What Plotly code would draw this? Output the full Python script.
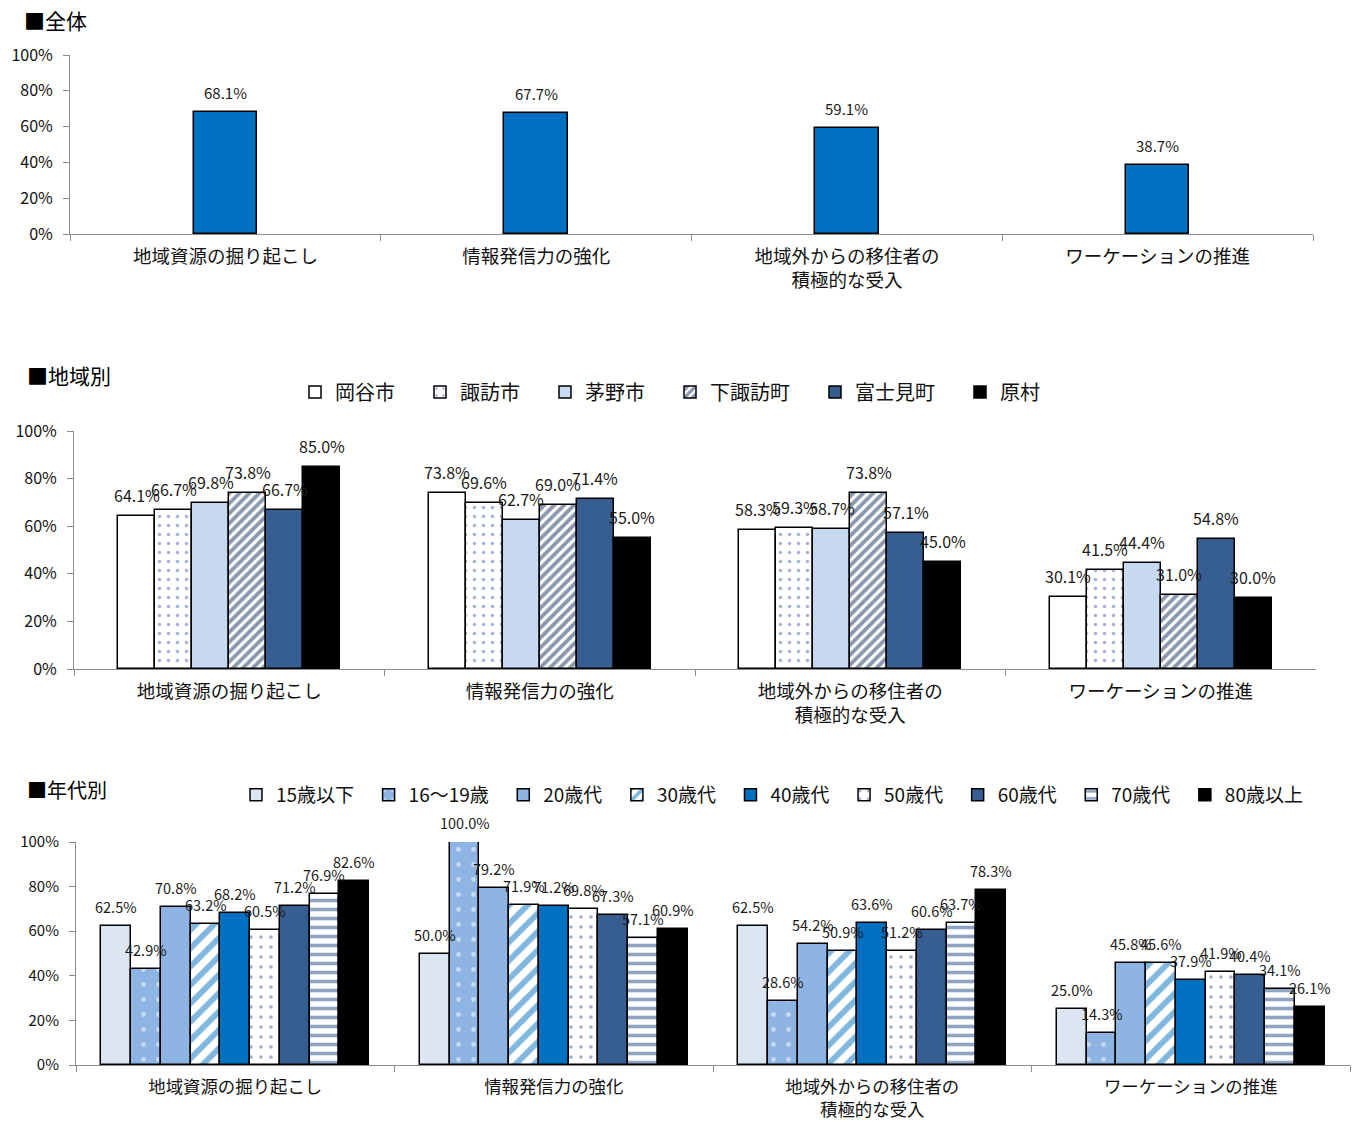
import plotly.graph_objects as go

FONT = "Noto Sans CJK JP"

categories = ["地域資源の掘り起こし", "情報発信力の強化", "地域外からの移住者の<br>積極的な受入", "ワーケーションの推進"]

# Panel 1: overall
overall_values = [68.1, 67.7, 59.1, 38.7]

# Panel 2: by region
region_names = ["岡谷市", "諏訪市", "茅野市", "下諏訪町", "富士見町", "原村"]
okaya = [64.1, 73.8, 58.3, 30.1]
suwa = [66.7, 69.6, 59.3, 41.5]
chino = [69.8, 62.7, 58.7, 44.4]
shimosuwa = [73.8, 69.0, 73.8, 31.0]
fujimi = [66.7, 71.4, 57.1, 54.8]
haramura = [85.0, 55.0, 45.0, 30.0]
region_values = [okaya, suwa, chino, shimosuwa, fujimi, haramura]

# Panel 3: by age
age_names = ["15歳以下", "16～19歳", "20歳代", "30歳代", "40歳代", "50歳代", "60歳代", "70歳代", "80歳以上"]
age15 = [62.5, 50.0, 62.5, 25.0]
age16_19 = [42.9, 100.0, 28.6, 14.3]
age20s = [70.8, 79.2, 54.2, 45.8]
age30s = [63.2, 71.9, 50.9, 45.6]
age40s = [68.2, 71.2, 63.6, 37.9]
age50s = [60.5, 69.8, 51.2, 41.9]
age60s = [71.2, 67.3, 60.6, 40.4]
age70s = [76.9, 57.1, 63.7, 34.1]
age80 = [82.6, 60.9, 78.3, 26.1]
age_values = [age15, age16_19, age20s, age30s, age40s, age50s, age60s, age70s, age80]

y_ticks = [0, 20, 40, 60, 80, 100]
y_ticktext = ["0%", "20%", "40%", "60%", "80%", "100%"]

# styles
region_styles = [
    dict(color="white"),
    dict(color="white", pattern=dict(shape=".", fgcolor="#4A6AAE", bgcolor="white", size=9, solidity=0.12)),
    dict(color="#C6D9F0"),
    dict(color="white", pattern=dict(shape="/", fgcolor="#172F5C", bgcolor="white", size=7, solidity=0.55)),
    dict(color="#375E91"),
    dict(color="black"),
]
age_styles = [
    dict(color="#DCE6F2"),
    dict(color="#8DB4E2", pattern=dict(shape=".", fgcolor="white", bgcolor="#8DB4E2", size=15, solidity=0.08)),
    dict(color="#8DB4E2"),
    dict(color="white", pattern=dict(shape="/", fgcolor="#0070C0", bgcolor="white", size=13, solidity=0.45)),
    dict(color="#0070C0"),
    dict(color="white", pattern=dict(shape=".", fgcolor="#3C5C94", bgcolor="white", size=10, solidity=0.1)),
    dict(color="#375E91"),
    dict(color="white", pattern=dict(shape="-", fgcolor="#1F4A86", bgcolor="white", size=9, solidity=0.4)),
    dict(color="black"),
]

fig = go.Figure()
line = dict(color="black", width=1.5)
annotations = []

def add_labels(xref, yref, vals, center_offset, size):
    for j, v in enumerate(vals):
        annotations.append(dict(
            xref=xref, yref=yref, x=j + center_offset, y=v, text=f"{v:.1f}%",
            xanchor="center", yanchor="bottom", yshift=7, showarrow=False,
            font=dict(family=FONT, size=size, color="#1a1a1a")))

fig.add_trace(go.Bar(
    x=categories, y=overall_values, xaxis="x", yaxis="y", width=0.205,
    marker=dict(color="#0070C0", line=line),
    showlegend=False, hoverinfo="skip",
))
add_labels("x", "y", overall_values, 0.0, 15)

n2 = len(region_names)
w2 = 0.119
for i, (name, vals, st) in enumerate(zip(region_names, region_values, region_styles)):
    off = -n2 * w2 / 2 + i * w2
    fig.add_trace(go.Bar(
        name=name + "\u3000", x=categories, y=vals, xaxis="x2", yaxis="y2",
        width=w2, offset=off, marker=dict(line=line, **st), legend="legend",
    ))
    add_labels("x2", "y2", vals, off + w2 / 2, 16)

n3 = len(age_names)
w3 = 0.0934
for i, (name, vals, st) in enumerate(zip(age_names, age_values, age_styles)):
    off = -n3 * w3 / 2 + i * w3
    fig.add_trace(go.Bar(
        name=name + "\u2002", x=categories, y=vals, xaxis="x3", yaxis="y3",
        width=w3, offset=off, marker=dict(line=line, **st), legend="legend2",
    ))
    add_labels("x3", "y3", vals, off + w3 / 2, 14.5)

H = 1122.0
W = 1355.0

def xax(x0, x1, anchor, size):
    return dict(domain=[x0 / W, x1 / W], anchor=anchor, type="category",
                showline=True, linecolor="#8C8C8C", linewidth=1, automargin=False,
                ticks="outside", tickson="boundaries", ticklen=6, tickcolor="#8C8C8C",
                ticklabelstandoff=6,
                tickfont=dict(family=FONT, size=size, color="#111"), showgrid=False,
                range=[-0.5, 3.5], fixedrange=True)

def yax(ytop, ybot, anchor, size):
    return dict(domain=[1 - ybot / H, 1 - ytop / H], anchor=anchor, range=[0, 100],
                tickvals=y_ticks, ticktext=y_ticktext, showline=True, linecolor="#8C8C8C",
                linewidth=1, ticks="outside", ticklen=6, tickcolor="#8C8C8C",
                showgrid=False, zeroline=False, automargin=False, ticklabelstandoff=7,
                tickfont=dict(family=FONT, size=size, color="#111"))

annotations += [
    dict(text="■全体", x=22 / W, y=1 - 20 / H, xref="paper", yref="paper",
         xanchor="left", yanchor="middle", showarrow=False,
         font=dict(family=FONT, size=21, color="#000")),
    dict(text="■地域別", x=25 / W, y=1 - 375 / H, xref="paper", yref="paper",
         xanchor="left", yanchor="middle", showarrow=False,
         font=dict(family=FONT, size=21, color="#000")),
    dict(text="■年代別", x=25 / W, y=1 - 789 / H, xref="paper", yref="paper",
         xanchor="left", yanchor="middle", showarrow=False,
         font=dict(family=FONT, size=20, color="#000")),
]

fig.update_layout(
    width=1355, height=1122,
    margin=dict(l=0, r=0, t=0, b=0, autoexpand=False),
    paper_bgcolor="white", plot_bgcolor="white",
    barmode="group", bargap=0.0,
    font=dict(family=FONT),
    xaxis=xax(70, 1313, "y", 18.5),
    yaxis=yax(55, 234, "x", 16),
    xaxis2=xax(74, 1316, "y2", 18.5),
    yaxis2=yax(431, 669, "x2", 16),
    xaxis3=xax(76, 1350, "y3", 17.4),
    yaxis3=yax(842, 1065, "x3", 15),
    legend=dict(orientation="h", x=295 / W, xanchor="left", y=1 - 392 / H, yanchor="middle",
                font=dict(family=FONT, size=20, color="#111"),
                bgcolor="rgba(0,0,0,0)", traceorder="normal"),
    legend2=dict(orientation="h", x=236 / W, xanchor="left", y=1 - 795 / H, yanchor="middle",
                 font=dict(family=FONT, size=19, color="#111"),
                 bgcolor="rgba(0,0,0,0)", traceorder="normal"),
    annotations=annotations,
)

fig.write_html("out.html", config={"displayModeBar": False},
               post_script="document.body.style.margin='0px';")
